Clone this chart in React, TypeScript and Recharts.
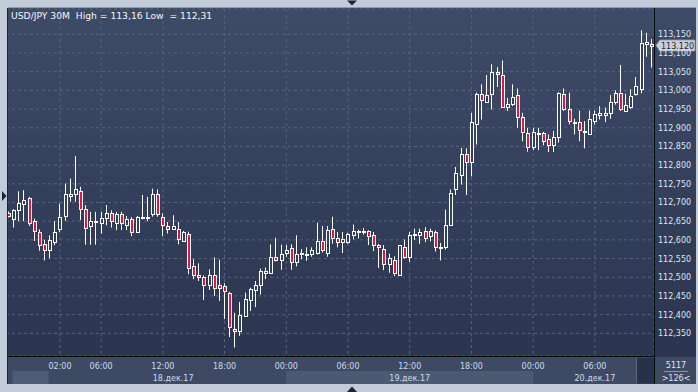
import React from 'react';
import { ComposedChart, Bar, XAxis, YAxis, CartesianGrid, ReferenceLine } from 'recharts';

// USD/JPY 30M candles, 17.12 21:00 -> 20.12 11:30
const OPEN = [
  112.672, 112.655, 112.679, 112.695, 112.713, 112.650, 112.620, 112.588, 112.574, 112.593,
  112.628, 112.664, 112.718, 112.724, 112.731, 112.683, 112.638, 112.650, 112.644, 112.659,
  112.673, 112.644, 112.668, 112.639, 112.655, 112.620, 112.661, 112.661, 112.668, 112.724,
  112.662, 112.637, 112.630, 112.630, 112.596, 112.617, 112.530, 112.507, 112.502, 112.480,
  112.507, 112.478, 112.477, 112.457, 112.362, 112.356, 112.396, 112.439, 112.466, 112.479,
  112.511, 112.512, 112.554, 112.546, 112.566, 112.577, 112.542, 112.566, 112.561, 112.561,
  112.566, 112.596, 112.566, 112.630, 112.605, 112.595, 112.595, 112.612, 112.623, 112.620,
  112.625, 112.612, 112.586, 112.576, 112.536, 112.547, 112.507, 112.581, 112.554, 112.616,
  112.612, 112.625, 112.610, 112.621, 112.580, 112.580, 112.639, 112.735, 112.773, 112.830,
  112.809, 112.911, 112.991, 112.970, 112.991, 113.050, 113.040, 112.956, 112.964, 112.987,
  112.929, 112.885, 112.849, 112.885, 112.885, 112.871, 112.854, 112.876, 112.991, 112.951,
  112.915, 112.916, 112.889, 112.884, 112.918, 112.934, 112.934, 112.940, 112.970, 112.992,
  112.946, 112.956, 112.991, 113.004, 113.125, 113.125,
];
const HIGH = [
  112.676, 112.682, 112.730, 112.733, 112.715, 112.657, 112.628, 112.600, 112.612, 112.650,
  112.697, 112.751, 112.764, 112.824, 112.742, 112.693, 112.675, 112.675, 112.675, 112.693,
  112.679, 112.675, 112.675, 112.664, 112.661, 112.664, 112.720, 112.715, 112.737, 112.735,
  112.671, 112.648, 112.666, 112.648, 112.624, 112.622, 112.548, 112.537, 112.505, 112.521,
  112.553, 112.547, 112.484, 112.461, 112.405, 112.434, 112.459, 112.472, 112.490, 112.523,
  112.526, 112.588, 112.606, 112.587, 112.586, 112.588, 112.612, 112.575, 112.580, 112.580,
  112.646, 112.637, 112.637, 112.662, 112.621, 112.621, 112.619, 112.641, 112.627, 112.632,
  112.626, 112.621, 112.589, 112.586, 112.563, 112.556, 112.586, 112.601, 112.621, 112.630,
  112.630, 112.634, 112.630, 112.625, 112.592, 112.681, 112.735, 112.795, 112.846, 112.845,
  112.940, 112.994, 113.016, 113.041, 113.070, 113.062, 113.080, 112.980, 113.016, 113.005,
  112.940, 112.900, 112.900, 112.900, 112.889, 112.882, 112.891, 112.995, 113.005, 112.994,
  112.924, 112.946, 112.918, 112.946, 112.946, 112.958, 112.954, 112.987, 113.000, 113.068,
  112.991, 113.003, 113.036, 113.161, 113.154, 113.137,
];
const LOW = [
  112.660, 112.633, 112.650, 112.650, 112.637, 112.597, 112.571, 112.545, 112.551, 112.586,
  112.621, 112.651, 112.702, 112.702, 112.653, 112.587, 112.587, 112.587, 112.617, 112.639,
  112.633, 112.626, 112.626, 112.626, 112.610, 112.620, 112.655, 112.650, 112.662, 112.662,
  112.610, 112.617, 112.629, 112.588, 112.596, 112.508, 112.495, 112.490, 112.439, 112.466,
  112.450, 112.437, 112.388, 112.340, 112.312, 112.343, 112.394, 112.410, 112.420, 112.454,
  112.495, 112.511, 112.542, 112.520, 112.555, 112.520, 112.529, 112.548, 112.544, 112.555,
  112.561, 112.566, 112.555, 112.590, 112.580, 112.565, 112.590, 112.601, 112.604, 112.614,
  112.586, 112.570, 112.525, 112.519, 112.512, 112.503, 112.506, 112.550, 112.541, 112.600,
  112.589, 112.594, 112.596, 112.569, 112.545, 112.574, 112.638, 112.720, 112.748, 112.720,
  112.770, 112.855, 112.922, 112.969, 112.949, 113.009, 112.955, 112.945, 112.958, 112.900,
  112.864, 112.836, 112.840, 112.840, 112.853, 112.835, 112.835, 112.860, 112.945, 112.909,
  112.882, 112.864, 112.845, 112.883, 112.909, 112.922, 112.915, 112.924, 112.962, 112.945,
  112.943, 112.951, 112.986, 112.992, 113.090, 113.061,
];
const CLOSE = [
  112.665, 112.679, 112.699, 112.708, 112.644, 112.623, 112.585, 112.574, 112.599, 112.621,
  112.660, 112.724, 112.724, 112.737, 112.683, 112.633, 112.650, 112.651, 112.659, 112.673,
  112.650, 112.668, 112.644, 112.655, 112.620, 112.660, 112.662, 112.662, 112.724, 112.668,
  112.639, 112.628, 112.636, 112.601, 112.622, 112.525, 112.507, 112.502, 112.480, 112.507,
  112.471, 112.472, 112.462, 112.368, 112.356, 112.398, 112.441, 112.468, 112.479, 112.516,
  112.516, 112.555, 112.546, 112.561, 112.572, 112.542, 112.561, 112.561, 112.562, 112.572,
  112.596, 112.572, 112.627, 112.605, 112.595, 112.601, 112.616, 112.625, 112.624, 112.625,
  112.610, 112.586, 112.580, 112.536, 112.552, 112.512, 112.586, 112.554, 112.612, 112.612,
  112.622, 112.605, 112.625, 112.580, 112.581, 112.639, 112.726, 112.779, 112.830, 112.809,
  112.916, 112.991, 112.974, 112.987, 113.050, 113.045, 112.956, 112.964, 112.982, 112.929,
  112.889, 112.849, 112.889, 112.886, 112.864, 112.854, 112.876, 112.994, 112.951, 112.918,
  112.916, 112.894, 112.890, 112.924, 112.936, 112.940, 112.940, 112.970, 112.992, 112.951,
  112.960, 112.986, 113.011, 113.126, 113.130, 113.120,
];

const PRICE_TICKS = [
  112.35, 112.4, 112.45, 112.5, 112.55, 112.6, 112.65, 112.7, 112.75,
  112.8, 112.85, 112.9, 112.95, 113.0, 113.05, 113.1, 113.15,
];
const TIME_TICKS = [
  '18.12 02:00', '18.12 06:00', '18.12 12:00', '18.12 18:00', '19.12 00:00',
  '19.12 06:00', '19.12 12:00', '19.12 18:00', '20.12 00:00', '20.12 06:00',
];
const DATE_TICKS = ['19.12 00:00', '18.12 13:00', '19.12 12:00', '20.12 06:00'];
const DATE_TEXT: Record<string, string> = {
  '18.12 13:00': '18.дек.17',
  '19.12 12:00': '19.дек.17',
  '20.12 06:00': '20.дек.17',
};
const BAND_START = '19.12 00:00';
const BAND_BARS = 48;

const pad = (n: number) => String(n).padStart(2, '0');
const TIMES = OPEN.map((_, i) => {
  const m = 21 * 60 + i * 30;
  const day = 17 + Math.floor(m / 1440);
  const mm = m % 1440;
  return `${day}.12 ${pad(Math.floor(mm / 60))}:${pad(mm % 60)}`;
});

const data = TIMES.map((t, i) => ({
  t,
  open: OPEN[i],
  high: HIGH[i],
  low: LOW[i],
  close: CLOSE[i],
  range: [LOW[i], HIGH[i]],
}));

const W = 698;
const H = 392;
const MARGIN = { top: 9, right: 2, bottom: 8, left: 6 };
const AXIS_W = 42;
const PLOT_W = W - MARGIN.left - MARGIN.right - AXIS_W;
const SLOT = PLOT_W / OPEN.length;

const FONT = '"DejaVu Sans", sans-serif';
const FRAME = '#c2ccd8';
const BODY_UP = '#33405a';
const RED = '#e3163f';
const GRID = '#56647f';
const LABEL = '#dfe7f1';
const TIME_LABEL = '#cbdaee';

const Candle = (props: any) => {
  const { x, y, width, height, payload } = props;
  if (!payload) return null;
  const { open, close, high, low } = payload;
  const top = Math.min(y, y + height);
  const h = Math.abs(height);
  const py = (p: number) => top + ((high - p) / (high - low)) * h;
  const cx = Math.floor(x + width / 2) + 0.5;
  const bTop = Math.round(py(Math.max(open, close))) + 0.5;
  const bBot = Math.max(Math.round(py(Math.min(open, close))) + 0.5, bTop + 1);
  const up = close >= open;
  return (
    <g>
      <line x1={cx} x2={cx} y1={py(high)} y2={bTop} stroke="#fff" strokeWidth={1} />
      <line x1={cx} x2={cx} y1={bBot} y2={py(low)} stroke="#fff" strokeWidth={1} />
      <rect x={cx - 1} y={bTop} width={3} height={bBot - bTop} fill={up ? BODY_UP : RED} stroke="#fff" strokeWidth={1} />
    </g>
  );
};

const PriceTick = ({ y, payload }: any) => (
  <text x={658} y={y} dy={3} fill={LABEL} fontSize={8} fontFamily={FONT}>
    {payload.value.toFixed(3).replace('.', ',')}
  </text>
);

const TimeTick = ({ x, payload }: any) => (
  <text x={x} y={369} textAnchor="middle" fill={TIME_LABEL} fontSize={8} fontFamily={FONT}>
    {String(payload.value).slice(-5)}
  </text>
);

const DateTick = ({ x, payload }: any) => {
  if (payload.value === BAND_START) {
    return <rect x={x} y={371} width={BAND_BARS * SLOT} height={13} fill="#4c5972" />;
  }
  return (
    <text x={x} y={380.5} textAnchor="middle" fill={TIME_LABEL} fontSize={8} fontFamily={FONT}>
      {DATE_TEXT[payload.value]}
    </text>
  );
};

const PriceBox = ({ viewBox, value }: any) => {
  if (!viewBox) return null;
  const x0 = viewBox.x + viewBox.width + 2;
  const yc = viewBox.y;
  return (
    <g>
      <polygon
        points={`${x0},${yc} ${x0 + 4},${yc - 5.5} ${x0 + 39},${yc - 5.5} ${x0 + 39},${yc + 5.5} ${x0 + 4},${yc + 5.5}`}
        fill="#c9d0da"
        stroke="#8e99a9"
        strokeWidth={0.8}
      />
      <text x={x0 + 5} y={yc + 3} fill="#1d2330" fontSize={8} fontFamily={FONT}>
        {value.toFixed(3).replace('.', ',')}
      </text>
    </g>
  );
};

export default function App() {
  const last = CLOSE[CLOSE.length - 1];
  return (
    <div style={{ position: 'absolute', left: 0, top: 0, width: W, height: H, background: FRAME, overflow: 'hidden' }}>
      <div style={{ position: 'absolute', left: 8, top: 8, width: 688, height: 349, background: 'linear-gradient(#3e4b67, #2b3550)' }} />
      <div style={{ position: 'absolute', left: 8, top: 357, width: 688, height: 27, background: '#3e4a63' }} />
      <div style={{ position: 'absolute', left: 0, top: 0 }}>
        <ComposedChart width={W} height={H} data={data} margin={MARGIN}>
          <CartesianGrid stroke={GRID} strokeDasharray="3 3" />
          <XAxis
            dataKey="t"
            ticks={TIME_TICKS}
            interval={0}
            height={14}
            axisLine={false}
            tickLine={false}
            tick={<TimeTick />}
          />
          <XAxis
            xAxisId="dates"
            dataKey="t"
            ticks={DATE_TICKS}
            interval={0}
            height={14}
            axisLine={false}
            tickLine={false}
            tick={<DateTick />}
          />
          <YAxis
            orientation="right"
            width={AXIS_W}
            domain={[112.2893, 113.2177]}
            allowDataOverflow
            ticks={PRICE_TICKS}
            interval={0}
            axisLine={false}
            tickLine={false}
            tick={<PriceTick />}
          />
          <Bar dataKey="range" shape={<Candle />} isAnimationActive={false} />
          <ReferenceLine
            y={last}
            stroke="none"
            label={(p: any) => <PriceBox viewBox={p.viewBox} value={last} />}
          />
        </ComposedChart>
      </div>
      <svg width={W} height={H} style={{ position: 'absolute', left: 0, top: 0, pointerEvents: 'none' }}>
        <rect x={0} y={0} width={7.5} height={H} fill={FRAME} />
        <line x1={7.5} x2={7.5} y1={8} y2={384} stroke="#1b2232" />
        <line x1={8} x2={696} y1={7.5} y2={7.5} stroke="#8f9bab" />
        <line x1={654.5} x2={654.5} y1={8} y2={384} stroke="#05070b" />
        <line x1={8} x2={654} y1={356.5} y2={356.5} stroke="#05070b" />
        <rect x={12.5} y={371} width={36} height={13} fill="#4e5b74" />
        <rect x={637} y={358} width={17} height={25.5} fill="#27324a" />
        <line x1={636.5} x2={636.5} y1={358} y2={383.5} stroke="#5a6780" />
        <text x={676} y={368} textAnchor="middle" fill={LABEL} fontSize={8} fontFamily={FONT}>5117</text>
        <line x1={664} x2={688} y1={371.5} y2={371.5} stroke="#8795ab" />
        <text x={676} y={381} textAnchor="middle" fill={LABEL} fontSize={8} fontFamily={FONT}>{'>126<'}</text>
        <text x={11} y={18.5} fill="#f4f7fb" fontSize={9.2} fontFamily={FONT} style={{ whiteSpace: 'pre' }}>
          {'USD/JPY 30M  High = 113,16 Low  = 112,31'}
        </text>
        <polygon points="2,191 6.5,196 2,201" fill="#1b2232" />
        <polygon points="347,0.5 357,0.5 352,5.5" fill="#1b2232" />
        <polygon points="347,392 357,392 352,386.5" fill="#1b2232" />
      </svg>
    </div>
  );
}
